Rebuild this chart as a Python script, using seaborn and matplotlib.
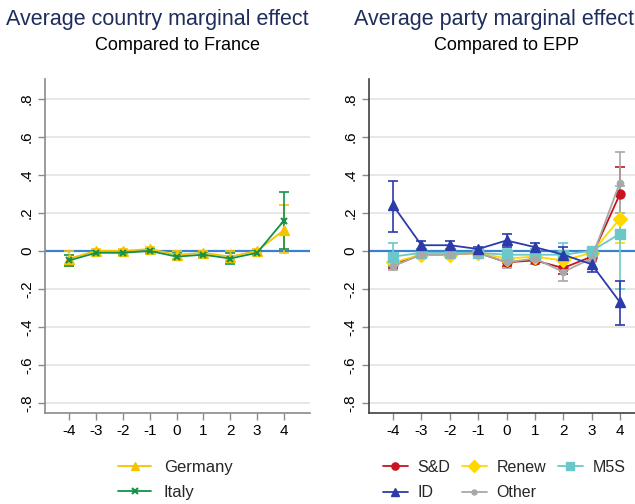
import matplotlib
matplotlib.use("Agg")
import matplotlib.pyplot as plt
import seaborn as sns
import pandas as pd

# distance values on the x axis
distance = [-4, -3, -2, -1, 0, 1, 2, 3, 4]

# left panel: country effects vs France
germany = [-0.04, 0.0, 0.0, 0.01, -0.02, -0.01, -0.03, 0.0, 0.11]
germany_lo = [-0.08, -0.01, -0.01, 0.0, -0.04, -0.02, -0.05, -0.01, -0.01]
germany_hi = [0.0, 0.01, 0.01, 0.02, 0.0, 0.0, 0.0, 0.01, 0.24]
italy = [-0.05, -0.01, -0.01, 0.0, -0.03, -0.02, -0.04, -0.01, 0.16]
italy_lo = [-0.08, -0.02, -0.02, -0.01, -0.05, -0.03, -0.07, -0.02, 0.01]
italy_hi = [-0.02, 0.0, 0.0, 0.01, -0.01, -0.01, -0.01, 0.0, 0.31]

# right panel: party effects vs EPP
sd = [-0.07, -0.02, -0.02, -0.01, -0.06, -0.05, -0.09, -0.03, 0.30]
sd_lo = [-0.09, -0.03, -0.03, -0.02, -0.08, -0.07, -0.12, -0.05, 0.16]
sd_hi = [-0.05, -0.01, -0.01, 0.0, -0.04, -0.03, -0.06, -0.01, 0.44]
renew = [-0.06, -0.02, -0.02, -0.01, -0.04, -0.03, -0.05, -0.01, 0.17]
renew_lo = [-0.08, -0.03, -0.03, -0.02, -0.06, -0.05, -0.08, -0.02, 0.04]
renew_hi = [-0.04, -0.01, -0.01, 0.0, -0.02, -0.01, -0.02, 0.0, 0.30]
m5s = [-0.03, -0.01, -0.01, -0.01, -0.02, -0.02, -0.02, 0.0, 0.09]
m5s_lo = [-0.08, -0.02, -0.02, -0.02, -0.05, -0.05, -0.06, -0.01, -0.20]
m5s_hi = [0.04, 0.0, 0.0, 0.0, 0.01, 0.01, 0.04, 0.01, 0.34]
id_ = [0.24, 0.03, 0.03, 0.01, 0.055, 0.02, -0.02, -0.07, -0.27]
id_lo = [0.10, 0.01, 0.01, 0.0, 0.02, 0.0, -0.06, -0.11, -0.39]
id_hi = [0.37, 0.05, 0.05, 0.02, 0.09, 0.04, 0.02, -0.03, -0.16]
other = [-0.08, -0.02, -0.02, -0.01, -0.06, -0.04, -0.11, -0.04, 0.36]
other_lo = [-0.10, -0.03, -0.03, -0.02, -0.09, -0.07, -0.16, -0.06, 0.20]
other_hi = [-0.06, -0.01, -0.01, 0.0, -0.03, -0.02, -0.06, -0.02, 0.52]

yticks = [0.8, 0.6, 0.4, 0.2, 0.0, -0.2, -0.4, -0.6, -0.8]
ytick_labels = [".8", ".6", ".4", ".2", "0", "-.2", "-.4", "-.6", "-.8"]

sns.set_theme(style="white")
plt.rcParams['font.family'] = ['Liberation Sans', 'DejaVu Sans']

fig = plt.figure(figsize=(6.35, 5.04), dpi=100)
ax1 = fig.add_axes([0.0709, 0.1806, 0.4173, 0.6627])
ax2 = fig.add_axes([0.581, 0.1806, 0.419, 0.6627])


def draw_series(ax, y, lo, hi, label, color, marker, ms, mew=1.0):
    df = pd.DataFrame({"x": distance, "y": y})
    ax.errorbar(distance, y,
                yerr=[[v - l for v, l in zip(y, lo)], [h - v for v, h in zip(y, hi)]],
                fmt="none", ecolor=color, elinewidth=1.2, capsize=3.5, capthick=1.2, zorder=3)
    sns.lineplot(data=df, x="x", y="y", ax=ax, color=color, marker=marker,
                 markersize=ms, markeredgecolor=color, markeredgewidth=mew,
                 linewidth=1.3, label=label, legend=False, zorder=4)


def style_axis(ax, xlim, spine_color):
    ax.set_xlim(*xlim)
    ax.set_ylim(-0.853, 0.905)
    ax.axhline(0, color="#3a80d0", linewidth=1.6, zorder=2)
    ax.set_yticks(yticks)
    ax.set_yticklabels(ytick_labels, rotation=90, va="center", fontsize=11)
    ax.set_xticks(distance)
    ax.set_xticklabels([str(v) for v in distance], fontsize=11)
    ax.grid(axis="y", color="#e3e3e3", linewidth=1.2)
    ax.set_axisbelow(True)
    for side in ["top", "right"]:
        ax.spines[side].set_visible(False)
    for side in ["left", "bottom"]:
        ax.spines[side].set_color(spine_color)
        ax.spines[side].set_linewidth(1.2)
    ax.tick_params(axis="both", direction="out", length=5, width=1, color="#8a8a8a",
                   left=True, bottom=True, pad=3, labelcolor="black")
    ax.set_xlabel("")
    ax.set_ylabel("")


draw_series(ax1, germany, germany_lo, germany_hi, "Germany", "#f5c400", "^", 7)
draw_series(ax1, italy, italy_lo, italy_hi, "Italy", "#14914a", "x", 5, 1.5)
style_axis(ax1, (-4.9, 4.97), "#8a8a8a")

draw_series(ax2, sd, sd_lo, sd_hi, "S&D", "#c8141e", "o", 6.5)
draw_series(ax2, renew, renew_lo, renew_hi, "Renew", "#ffd800", "D", 7.5)
draw_series(ax2, m5s, m5s_lo, m5s_hi, "M5S", "#6cc8c8", "s", 7.5)
draw_series(ax2, other, other_lo, other_hi, "Other", "#a8a8a8", "o", 4.5)
draw_series(ax2, id_, id_lo, id_hi, "ID", "#2b3caa", "^", 6.5)
style_axis(ax2, (-4.85, 4.53), "#404040")

title_color = "#1e2d5c"
fig.text(0.247, 0.962, "Average country marginal effect", ha="center", va="center",
         fontsize=15.5, color=title_color)
fig.text(0.2795, 0.909, "Compared to France", ha="center", va="center", fontsize=13,
         color="black")
fig.text(0.778, 0.962, "Average party marginal effect", ha="center", va="center",
         fontsize=15.5, color=title_color)
fig.text(0.797, 0.909, "Compared to EPP", ha="center", va="center", fontsize=13,
         color="black")

h1, l1 = ax1.get_legend_handles_labels()
fig.legend(h1, l1, loc="center left", bbox_to_anchor=(0.186, 0.0476), ncol=1,
           frameon=False, fontsize=12, handlelength=2.0, labelspacing=0.6,
           handletextpad=0.75, borderpad=0, borderaxespad=0, markerscale=0.9)

h2, l2 = ax2.get_legend_handles_labels()
hmap = dict(zip(l2, h2))
# matplotlib fills legends column-wise, so interleave to get row-wise order
col_order = ["S&D", "ID", "Renew", "Other", "M5S"]
fig.legend([hmap[k] for k in col_order], col_order, loc="center left",
           bbox_to_anchor=(0.603, 0.0476), ncol=3, frameon=False, fontsize=11.5,
           handlelength=1.55, labelspacing=0.65, handletextpad=0.6, columnspacing=0.75,
           borderpad=0, borderaxespad=0, markerscale=0.8)

fig.savefig("out.png", dpi=100)
